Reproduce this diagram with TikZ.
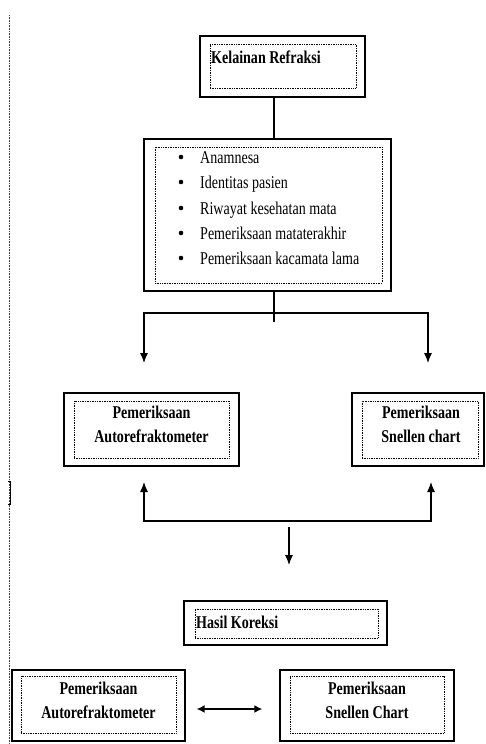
\documentclass[tikz,border=0pt]{standalone}
\usepackage{fontspec}
\setmainfont{Liberation Serif}[FakeStretch=0.78]
\usepackage{tikz}
\usetikzlibrary{positioning, arrows.meta}

\begin{document}
\begin{tikzpicture}[
    x=1pt, y=-1pt,
    frame/.style={draw, line width=1.3pt, inner sep=0pt},
    dots/.style={draw, line width=0.8pt, dash pattern=on 0.8pt off 0.9pt, inner sep=0pt},
    title/.style={font=\fontsize{18}{24}\selectfont\bfseries, align=center, inner sep=0pt},
    entry/.style={font=\fontsize{18}{24}\selectfont, anchor=base west, inner sep=0pt},
    conn/.style={line width=1.1pt},
    tip/.style={-{Latex[length=10pt, width=8pt]}}
]
    \useasboundingbox (0,0) rectangle (485,744);

    % Page margin line
    \draw[line width=0.8pt, black!75, dash pattern=on 0.8pt off 0.8pt] (9,15) -- (9,744);
    \draw[line width=1pt] (8,481) -- (10.5,481) -- (10.5,504) -- (8,504);

    % Kelainan Refraksi
    \node[frame, minimum width=165pt, minimum height=61pt] (f1) at (282.5,66.5) {};
    \node[dots, minimum width=146pt, minimum height=44pt] (d1) at (283,66) {};
    \node[title, anchor=base west] (t1) at (211,63) {Kelainan Refraksi};

    % Anamnesa list
    \node[frame, minimum width=247pt, minimum height=152pt] (f2) at (267.5,215) {};
    \node[dots, minimum width=227pt, minimum height=136pt] (d2) at (268.5,215) {};
    \fill (181,157) circle (2.3pt);
    \node[entry] (l1) at (200,163) {Anamnesa};
    \fill (181,182) circle (2.3pt);
    \node[entry] (l2) at (200,188) {Identitas pasien};
    \fill (181,208) circle (2.3pt);
    \node[entry] (l3) at (200,214) {Riwayat kesehatan mata};
    \fill (181,233) circle (2.3pt);
    \node[entry] (l4) at (200,239) {Pemeriksaan mataterakhir};
    \fill (181,258) circle (2.3pt);
    \node[entry] (l5) at (200,264) {Pemeriksaan kacamata lama};

    % Pemeriksaan (middle row)
    \node[frame, minimum width=175pt, minimum height=73pt] (f3l) at (151.5,429.5) {};
    \node[dots, minimum width=155pt, minimum height=57pt] (d3l) at (151.5,429.5) {};
    \node[title] (t3l) at (151.5,424) {Pemeriksaan\\Autorefraktometer};

    \node[frame, minimum width=132pt, minimum height=73pt] (f3r) at (418,429.5) {};
    \node[dots, minimum width=116pt, minimum height=57pt] (d3r) at (420,429.5) {};
    \node[title] (t3r) at (421,424) {Pemeriksaan\\Snellen chart};

    % Hasil Koreksi
    \node[frame, minimum width=203pt, minimum height=44pt] (f4) at (285.5,623) {};
    \node[dots, minimum width=183pt, minimum height=29pt] (d4) at (286.5,623.5) {};
    \node[title, anchor=base west] (t4) at (196,628) {Hasil Koreksi};

    % Pemeriksaan (bottom row)
    \node[frame, minimum width=173pt, minimum height=71pt] (f5l) at (98.5,705.5) {};
    \node[dots, minimum width=155pt, minimum height=57pt] (d5l) at (98.5,704.5) {};
    \node[title] (t5l) at (98.5,700.5) {Pemeriksaan\\Autorefraktometer};

    \node[frame, minimum width=174pt, minimum height=71pt] (f5r) at (367,705.5) {};
    \node[dots, minimum width=154pt, minimum height=57pt] (d5r) at (367,704.5) {};
    \node[title] (t5r) at (367,700.5) {Pemeriksaan\\Snellen Chart};

    % Connectors
    \coordinate (split) at (274,313);
    \coordinate (stub) at (274,322);
    \coordinate (la) at (144,363);
    \coordinate (ra) at (428,363);
    \draw[conn] (f1.south -| split) -- (f2.north -| split);
    \draw[conn] (f2.south -| split) -- (stub);
    \draw[conn, tip] (split) -| (la);
    \draw[conn, tip] (split) -| (ra);

    \coordinate (lb) at (144,482);
    \coordinate (rb) at (431,482);
    \coordinate (bar) at (289,521);
    \draw[conn, {Latex[length=10pt, width=8pt]}-{Latex[length=10pt, width=8pt]}] (lb) -- (lb |- bar) -- (rb |- bar) -- (rb);

    \coordinate (dtop) at (289,527);
    \coordinate (dend) at (289,565);
    \draw[conn, tip] (dtop) -- (dend);

    \draw[line width=1.8pt, {Latex[length=8pt, width=8pt]}-{Latex[length=8pt, width=8pt]}, shorten <=11pt, shorten >=17pt]
        ([yshift=-3.5pt]f5l.east) -- ([yshift=-3.5pt]f5r.west);

\end{tikzpicture}
\end{document}
